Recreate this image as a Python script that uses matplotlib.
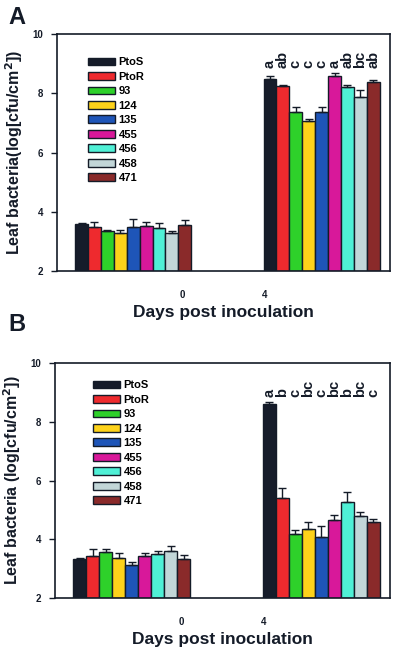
import matplotlib
matplotlib.use("Agg")
import matplotlib.pyplot as plt
import numpy as np

plt.rcParams["font.family"] = ["Liberation Sans", "DejaVu Sans"]
plt.rcParams["font.weight"] = "bold"

strains = ["PtoS", "PtoR", "93", "124", "135", "455", "456", "458", "471"]
colors = ["#161c2a", "#ee2a2e", "#2ed12a", "#fdd21a", "#1e55b8",
          "#d8189a", "#4ff0d6", "#c2d6d8", "#8a2a2a"]
days = ["0", "4"]

# panel A
a_day0 = [3.58, 3.49, 3.35, 3.30, 3.48, 3.53, 3.46, 3.30, 3.57]
a_day0_err = [0.04, 0.15, 0.04, 0.09, 0.26, 0.12, 0.16, 0.06, 0.15]
a_day4 = [8.49, 8.23, 7.36, 7.05, 7.38, 8.58, 8.21, 7.87, 8.38]
a_day4_err = [0.09, 0.06, 0.19, 0.08, 0.15, 0.10, 0.08, 0.25, 0.08]
a_letters = ["a", "ab", "c", "c", "c", "a", "ab", "bc", "ab"]

# panel B
b_day0 = [3.33, 3.42, 3.58, 3.35, 3.14, 3.44, 3.49, 3.59, 3.33]
b_day0_err = [0.03, 0.24, 0.09, 0.19, 0.07, 0.09, 0.11, 0.18, 0.12]
b_day4 = [8.61, 5.42, 4.17, 4.34, 4.09, 4.64, 5.26, 4.78, 4.58]
b_day4_err = [0.07, 0.33, 0.14, 0.24, 0.37, 0.17, 0.35, 0.15, 0.11]
b_letters = ["a", "b", "c", "bc", "c", "bc", "b", "bc", "c"]

DARK = "#141b28"
group_start = [1.4, 16.0]
tick_pos = [9.7, 16.05]


def draw_panel(ax, day0, err0, day4, err4, letters, ylabel, legend_anchor):
    n = len(strains)
    for g, (vals, errs) in enumerate([(day0, err0), (day4, err4)]):
        x = group_start[g] + 0.5 + np.arange(n)
        bars = ax.bar(x, np.array(vals) - 2, width=1.0, bottom=2, color=colors,
                      edgecolor=DARK, linewidth=1.0, zorder=2)
        ax.errorbar(x, vals, yerr=[np.zeros(n), errs], fmt="none", ecolor=DARK,
                    elinewidth=1.0, capsize=3, capthick=1.0, zorder=3)
        if g == 0:
            handles = bars
    x4 = group_start[1] + 0.5 + np.arange(n)
    for xi, lab in zip(x4, letters):
        ax.text(xi, 8.85, lab, rotation=90, ha="center", va="bottom",
                fontsize=10.5, fontweight="bold", color=DARK)

    ax.set_xlim(0, 25.8)
    ax.set_ylim(2, 10)
    ax.set_yticks([2, 4, 6, 8, 10])
    ax.set_xticks(tick_pos)
    ax.set_xticklabels(days)
    ax.tick_params(axis="x", length=0, pad=14, labelsize=7, colors=DARK)
    ax.tick_params(axis="y", direction="out", length=4, width=1.0, pad=6,
                   labelsize=7, colors=DARK)
    for s in ax.spines.values():
        s.set_color(DARK)
        s.set_linewidth(1.2)
    ax.set_xlabel("Days post inoculation", fontsize=12.5, fontweight="bold",
                  color=DARK, labelpad=3)
    ax.set_ylabel(ylabel, fontsize=11.5, fontweight="bold", color=DARK, labelpad=5)
    ax.legend(handles, strains, loc="upper left", bbox_to_anchor=legend_anchor,
              frameon=False, handlelength=2.4, handleheight=0.7,
              handletextpad=0.35, labelspacing=0.4, borderaxespad=0,
              prop={"weight": "bold", "size": 8})


fig = plt.figure(figsize=(4.0, 6.54), dpi=100)
ax_a = fig.add_axes([0.1425, 0.5856, 0.8325, 0.3624])
ax_b = fig.add_axes([0.1375, 0.0856, 0.8375, 0.3593])

draw_panel(ax_a, a_day0, a_day0_err, a_day4, a_day4_err, a_letters,
           "Leaf bacteria(log[cfu/cm$^\\mathbf{2}$])", (0.08, 0.92))
draw_panel(ax_b, b_day0, b_day0_err, b_day4, b_day4_err, b_letters,
           "Leaf bacteria (log[cfu/cm$^\\mathbf{2}$])", (0.1, 0.945))

fig.text(8 / 400, 1 - 24 / 654, "A", fontsize=17, fontweight="bold", color=DARK)
fig.text(8 / 400, 1 - 331 / 654, "B", fontsize=17, fontweight="bold", color=DARK)

fig.savefig("out.png", dpi=100)
